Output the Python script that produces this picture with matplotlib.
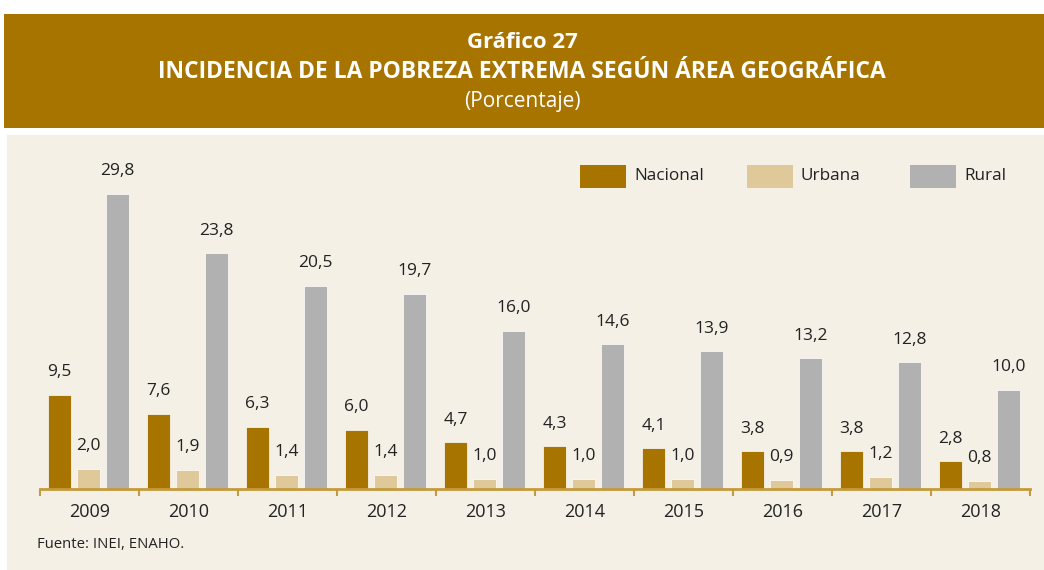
import matplotlib
matplotlib.use("Agg")
import matplotlib.pyplot as plt
from matplotlib.patches import Rectangle
import numpy as np

years = ["2009", "2010", "2011", "2012", "2013", "2014", "2015", "2016", "2017", "2018"]
nacional = [9.5, 7.6, 6.3, 6.0, 4.7, 4.3, 4.1, 3.8, 3.8, 2.8]
urbana = [2.0, 1.9, 1.4, 1.4, 1.0, 1.0, 1.0, 0.9, 1.2, 0.8]
rural = [29.8, 23.8, 20.5, 19.7, 16.0, 14.6, 13.9, 13.2, 12.8, 10.0]
series_names = ["Nacional", "Urbana", "Rural"]

C_NAC = "#A87400"
C_URB = "#DFC99A"
C_RUR = "#B1B1B1"
BG = "#F4F0E6"
TXT = "#222222"
AXC = "#C49A3C"

plt.rcParams['font.family'] = ['Open Sans', 'DejaVu Sans']

W, H = 1044, 570
fig = plt.figure(figsize=(W / 100, H / 100), dpi=100)
fig.patch.set_facecolor("white")

def fx(px):
    return px / W

def fy(py):
    return 1 - py / H

# header band
fig.patches.append(Rectangle((fx(4), fy(128)), fx(1044 - 4), (128 - 14) / H,
                             transform=fig.transFigure, facecolor=C_NAC, edgecolor="none", zorder=-10))
# beige panel
fig.patches.append(Rectangle((fx(7), fy(570)), fx(1044 - 7), (570 - 135) / H,
                             transform=fig.transFigure, facecolor=BG, edgecolor="none", zorder=-10))

title_font = ['Open Sans', 'DejaVu Sans']
fig.text(0.5, fy(43), "Gráfico 27", ha="center", va="center", color="white",
         fontsize=16, fontweight="bold", family=title_font)
fig.text(0.5, fy(72), "INCIDENCIA DE LA POBREZA EXTREMA SEGÚN ÁREA GEOGRÁFICA", ha="center", va="center",
         color="white", fontsize=16.5, fontweight="bold", family=title_font)
fig.text(0.5, fy(101), "(Porcentaje)", ha="center", va="center", color="white",
         fontsize=15, family=title_font)

# axes
ax_left, ax_right = 40, 1030
ax_bottom, ax_top = 489, 150
ppu = 9.9
ymax = (ax_bottom - ax_top) / ppu
ax = fig.add_axes([fx(ax_left), fy(ax_bottom), (ax_right - ax_left) / W, (ax_bottom - ax_top) / H])
ax.set_facecolor("none")
ax.set_xlim(0, len(years))
ax.set_ylim(0, ymax)

x = np.arange(len(years))
offsets = [0.197, 0.49, 0.783]
width = 0.232
colors = [C_NAC, C_URB, C_RUR]
for vals, off, col, name in zip([nacional, urbana, rural], offsets, colors, series_names):
    ax.bar(x + off, vals, width=width, color=col, edgecolor="#FFFFFF", linewidth=0.5,
           label=name, zorder=2)
    for xi, v in zip(x + off, vals):
        ax.text(xi, v + 2.3, f"{v:.1f}".replace(".", ","), ha="center", va="center",
                fontsize=12.5, color=TXT)

for s in ["top", "right", "left"]:
    ax.spines[s].set_visible(False)
ax.spines["bottom"].set_color(AXC)
ax.spines["bottom"].set_linewidth(2)
ax.set_yticks([])
ax.set_xticks(np.arange(len(years) + 1))
ax.set_xticklabels([])
ax.tick_params(axis="x", direction="out", length=5, width=1.5, color=AXC)
ax.set_xticks(x + 0.5, minor=True)
ax.set_xticklabels(years, minor=True)
ax.tick_params(axis="x", which="minor", length=0, pad=10, labelsize=13, labelcolor=TXT)

# legend
leg_items = [(580, "Nacional", C_NAC), (747, "Urbana", C_URB), (910, "Rural", C_RUR)]
for px, name, col in leg_items:
    fig.patches.append(Rectangle((fx(px), fy(188)), fx(46), 23 / H, transform=fig.transFigure,
                                 facecolor=col, edgecolor="none", zorder=3))
    fig.text(fx(px + 54), fy(176.5), name, ha="left", va="center", fontsize=12.3, color=TXT)

fig.text(fx(37), fy(544), "Fuente: INEI, ENAHO.", ha="left", va="center", fontsize=10.7, color=TXT)

fig.savefig("out.png", dpi=100, facecolor=fig.get_facecolor())
